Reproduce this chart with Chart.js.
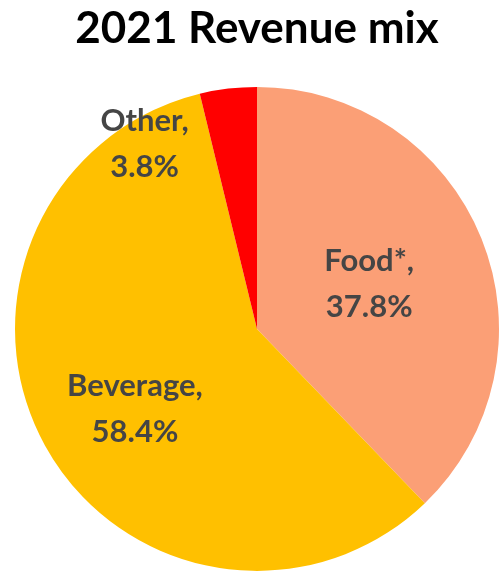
<!DOCTYPE html>
<html>
<head>
<meta charset="utf-8">
<script src="https://cdn.jsdelivr.net/npm/chart.js@4/dist/chart.umd.min.js"></script>
<style>
    html, body { margin: 0; padding: 0; background: #FFFFFF; }
    #wrap { width: 502px; height: 576px; position: relative; }
</style>
</head>
<body>
<div id="wrap"><canvas id="revenue-mix"></canvas></div>
<script>
// Revenue split, clockwise from 12 o'clock
const segments = ['Food*', 'Beverage', 'Other'];
const shares = [37.8, 58.4, 3.8];
const segmentColors = ['#FB9F76', '#FFC000', '#FF0000'];

// Nudges for each label from the slice centroid (px)
const labelOffsets = [[0, 0], [-16, 22], [-98, -65]];

// Draws "Name,\nxx.x%" labels on the slices
const sliceLabels = {
    id: 'sliceLabels',
    afterDatasetsDraw(chart) {
        const ctx = chart.ctx;
        const meta = chart.getDatasetMeta(0);
        ctx.save();
        ctx.font = "bold 31px Lato, 'Open Sans', sans-serif";
        ctx.fillStyle = '#454545';
        ctx.textAlign = 'center';
        ctx.textBaseline = 'middle';
        meta.data.forEach((arc, i) => {
            const pos = arc.tooltipPosition();
            const x = pos.x + labelOffsets[i][0];
            const y = pos.y + labelOffsets[i][1];
            ctx.fillText(segments[i] + ',', x, y - 23);
            ctx.fillText(shares[i].toFixed(1) + '%', x, y + 23);
        });
        ctx.restore();
    }
};

const revenueChart = new Chart(document.getElementById('revenue-mix').getContext('2d'), {
    type: 'pie',
    data: {
        labels: segments,
        datasets: [{
            data: shares,
            backgroundColor: segmentColors,
            borderWidth: 0
        }]
    },
    options: {
        responsive: true,
        maintainAspectRatio: false,
        animation: false,
        layout: {
            padding: { left: 15, right: 3, bottom: 3, top: 0 }
        },
        plugins: {
            legend: { display: false },
            tooltip: { enabled: false },
            title: {
                display: true,
                text: '2021 Revenue mix',
                color: '#000000',
                font: { size: 44, weight: 'bold', family: "Lato, 'Open Sans', sans-serif" },
                padding: { top: 2, bottom: 30 }
            }
        }
    },
    plugins: [sliceLabels]
});
</script>
</body>
</html>
